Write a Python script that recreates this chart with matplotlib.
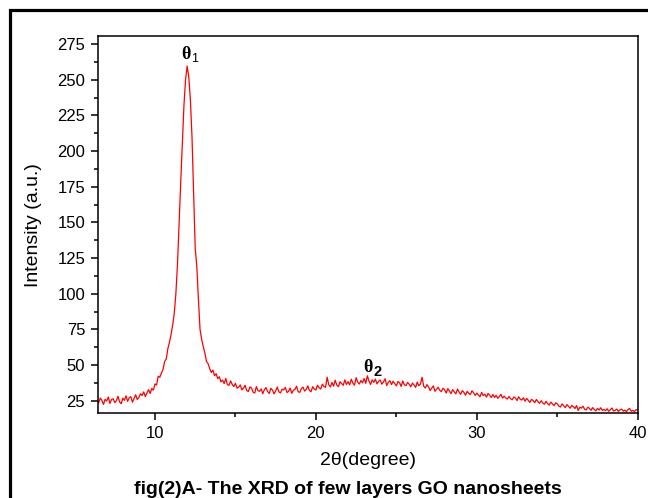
import numpy as np
import matplotlib
matplotlib.use("Agg")
import matplotlib.pyplot as plt
from matplotlib.patches import Rectangle
from matplotlib.ticker import MultipleLocator

plt.rcParams['font.family'] = ['Liberation Sans', 'DejaVu Sans']

# 2-theta grid start/step (degrees) and intensity readings (a.u.), one row per degree
two_theta_start = 6.5
two_theta_step = 0.1
intensity = [
    23.5, 26.9, 25.2, 22.4, 26.0,
    24.8, 27.6, 23.1, 25.9, 26.4, 23.7, 25.0, 28.1, 24.2, 22.9,
    26.8, 25.3, 28.4, 24.6, 27.1, 27.9, 24.0, 26.5, 29.2, 25.8,
    27.3, 29.9, 28.6, 31.2, 27.9, 30.4, 32.8, 30.1, 33.6, 32.4,
    36.8, 36.0, 42.2, 41.5, 44.4, 47.0, 52.5, 54.2, 61.5, 66.0,
    71.5, 78.0, 86.5, 100.3, 121.0, 150.0, 178.0, 205.0, 232.0, 250.0,
    259.5, 252.0, 236.0, 210.0, 172.0, 132.0, 119.0, 96.0, 75.0, 68.0,
    63.0, 58.5, 52.5, 51.0, 47.5, 44.8, 46.5, 42.5, 44.0, 40.5,
    41.8, 38.2, 39.5, 37.0, 40.6, 36.3, 35.8, 38.9, 36.5, 34.9,
    37.2, 33.8, 34.5, 36.1, 32.6, 33.9, 35.8, 32.2, 31.5, 34.7,
    33.8, 31.0, 30.4, 34.9, 32.1, 31.6, 33.3, 29.9, 32.8, 34.2,
    31.4, 30.1, 33.7, 32.5, 29.8, 31.9, 34.6, 31.2, 30.5, 33.1,
    32.6, 34.3, 30.8, 31.5, 33.9, 30.2, 32.4, 33.0, 35.1, 31.3,
    30.9, 33.6, 34.5, 31.8, 32.9, 35.4, 32.1, 31.4, 34.8, 33.2,
    32.5, 35.9, 34.1, 33.2, 36.6, 35.0, 34.4, 41.5, 36.2, 34.7,
    37.8, 35.2, 39.4, 36.0, 34.9, 38.3, 37.1, 35.8, 39.6, 36.4,
    38.4, 36.1, 40.1, 37.3, 35.9, 41.2, 38.0, 36.7, 39.2, 37.5,
    40.6, 37.2, 42.5, 38.8, 36.4, 39.7, 37.9, 40.2, 36.8, 38.6,
    39.5, 36.6, 38.2, 40.4, 35.7, 37.9, 39.0, 36.3, 38.7, 37.0,
    35.4, 38.5, 37.6, 35.0, 38.9, 36.2, 35.6, 37.8, 36.5, 34.8,
    37.4, 36.0, 34.3, 38.1, 35.5, 36.7, 41.5, 35.2, 33.9, 36.3,
    34.8, 32.1, 33.9, 35.4, 31.6, 33.0, 34.5, 32.3, 31.4, 33.8,
    32.7, 30.4, 33.5, 31.9, 30.0, 32.8, 31.2, 29.8, 33.2, 31.0,
    29.5, 32.1, 30.8, 28.9, 31.6, 30.2, 29.3, 32.0, 30.6, 28.7,
    30.4, 29.0, 27.8, 30.9, 28.6, 29.6, 27.5, 30.1, 28.9, 27.2,
    29.4, 27.3, 28.8, 26.7, 27.9, 29.5, 26.9, 28.2, 27.0, 26.2,
    28.0, 26.4, 25.7, 27.6, 26.9, 25.1, 27.8, 26.0, 25.5, 27.1,
    24.6, 26.7, 25.3, 23.8, 26.0, 25.1, 23.6, 25.9, 24.4, 23.2,
    25.0, 23.4, 22.6, 24.6, 23.0, 21.9, 24.1, 22.8, 21.6, 23.5,
    22.9, 21.2, 20.6, 22.8, 21.5, 20.2, 22.3, 21.0, 19.8, 21.7,
    20.9, 19.5, 21.6, 18.2, 20.4, 19.8, 21.2, 19.0, 18.6, 20.5,
    19.6, 18.3, 20.2, 18.9, 17.9, 19.7, 18.5, 20.1, 18.2, 19.0,
    18.0, 19.4, 17.6, 18.8, 19.9, 17.8, 18.3, 19.2, 17.5, 18.6,
    19.1, 17.7, 18.4, 17.3, 18.9, 19.6, 17.6, 18.2, 17.4, 18.8,
    18.5,
]
x_ticks = [10, 20, 30, 40]
y_ticks = [25, 50, 75, 100, 125, 150, 175, 200, 225, 250, 275]

two_theta = two_theta_start + two_theta_step * np.arange(len(intensity))

fig = plt.figure(figsize=(6.48, 4.98), dpi=100)
W, H = 648, 498
ax = fig.add_axes([97.7 / W, 1 - 413.3 / H, (637.7 - 97.7) / W, (413.3 - 36) / H])

ax.plot(two_theta, intensity, color='#ff0000', lw=0.9)
ax.set_xlim(6.44, 40)
ax.set_ylim(16.2, 280.6)
ax.set_xticks(x_ticks)
ax.set_yticks(y_ticks)
ax.xaxis.set_minor_locator(MultipleLocator(5))
ax.yaxis.set_minor_locator(MultipleLocator(12.5))
ax.tick_params(which='major', direction='out', length=5, width=1.1, labelsize=12, pad=4)
ax.tick_params(which='minor', direction='out', length=3, width=1.1)
for s in ax.spines.values():
    s.set_linewidth(1.1)

ax.set_xlabel('2θ(degree)', fontsize=14, labelpad=8)
ax.set_ylabel('Intensity (a.u.)', fontsize=14, labelpad=11)

# peak labels
ax.text(12.2, 262, 'θ', fontsize=13, fontweight='bold', ha='right', va='bottom',
        family=['Liberation Serif', 'DejaVu Serif'])
ax.text(12.25, 260, '1', fontsize=9, ha='left', va='bottom')
ax.text(23.55, 42.5, 'θ', fontsize=13, fontweight='bold', ha='right', va='bottom',
        family=['Liberation Serif', 'DejaVu Serif'])
ax.text(23.6, 40.0, '2', fontsize=10.5, fontweight='bold', ha='left', va='bottom')

fig.text(348 / W, 1 - 489 / H, 'fig(2)A- The XRD of few layers GO nanosheets',
         fontsize=14, fontweight='bold', ha='center', va='center')

# outer frame (extends beyond the right and bottom edges)
fig.patches.append(Rectangle((9.5 / W, -0.2), 1.5, 1 - 9.5 / H + 0.2,
                             transform=fig.transFigure, fill=False,
                             edgecolor='black', lw=2.3, clip_on=False))

fig.savefig('out.png', dpi=100)
